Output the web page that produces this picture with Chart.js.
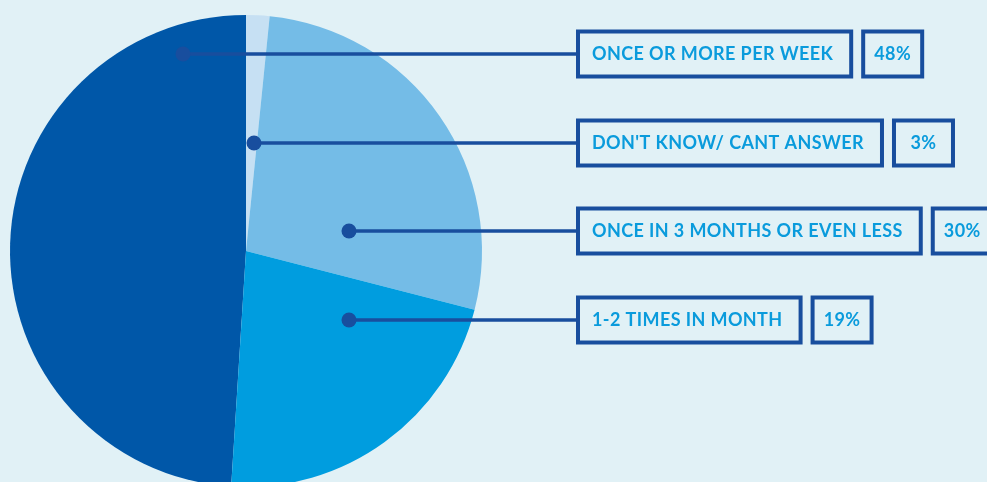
<!DOCTYPE html>
<html>
<head>
<meta charset="utf-8">
<style>
  html, body { margin: 0; padding: 0; background: #e1f1f6; overflow: hidden; }
  #wrap { width: 987px; height: 482px; overflow: hidden; }
</style>
<script src="https://cdn.jsdelivr.net/npm/chart.js@4"></script>
</head>
<body>
<div id="wrap"><canvas id="pie" width="987" height="502"></canvas></div>
<script>
"use strict";

// svarskategorier, i samma ordning som raderna till höger
const answers = [
    "ONCE OR MORE PER WEEK",
    "DON'T KNOW/ CANT ANSWER",
    "ONCE IN 3 MONTHS OR EVEN LESS",
    "1-2 TIMES IN MONTH"
];
// procent som står i rutorna
const percentLabels = ["48%", "3%", "30%", "19%"];
// tårtbitarnas storlek, som de är ritade i bilden
const shares = [49.0, 1.6, 27.4, 22.0];
const sliceColors = ["#0057a8", "#c6e0f3", "#74bce7", "#009ddf"];

const lineColor = "#184e9e";
const textColor = "#0a9bdc";

/**
 * Ritar prickar, linjer och rutor med text.
 */
const calloutPlugin = {
    id: "callouts",
    afterDraw(chart, args, opts) {
        const ctx = chart.ctx;
        const arc = chart.getDatasetMeta(0).data[0];
        const cx = arc.x;
        const cy = arc.y;

        ctx.save();
        ctx.font = "bold 18px Lato, 'Noto Sans', sans-serif";
        ctx.letterSpacing = "0.4px";
        ctx.textBaseline = "middle";

        answers.forEach((text, i) => {
            const y = opts.rows[i];
            const dotX = cx + opts.dotDx[i];

            // linje från pricken till rutan
            ctx.strokeStyle = lineColor;
            ctx.lineWidth = 3.5;
            ctx.beginPath();
            ctx.moveTo(dotX, y);
            ctx.lineTo(opts.boxX, y);
            ctx.stroke();

            ctx.fillStyle = lineColor;
            ctx.beginPath();
            ctx.arc(dotX, y, 7.5, 0, Math.PI * 2);
            ctx.fill();

            // rutan med texten
            const textX = opts.boxX + 16;
            const w = ctx.measureText(text).width;
            const boxRight = textX + w + 20;
            ctx.lineWidth = 4;
            ctx.strokeRect(opts.boxX + 2, y - 22.5, boxRight - opts.boxX - 4, 45);

            ctx.fillStyle = textColor;
            ctx.textAlign = "left";
            ctx.fillText(text, textX, y);

            // procentrutan
            const pX = boxRight + 8;
            ctx.strokeRect(pX + 2, y - 22.5, 59, 45);
            ctx.textAlign = "center";
            ctx.fillText(percentLabels[i], pX + 31.5, y);
        });
        ctx.restore();
    }
};

const total = shares.reduce((a, b) => a + b, 0);

new Chart(document.getElementById("pie"), {
    type: "pie",
    data: {
        labels: answers,
        datasets: [{
            data: shares,
            backgroundColor: sliceColors,
            borderWidth: 0,
            hoverOffset: 0
        }]
    },
    options: {
        responsive: false,
        animation: false,
        devicePixelRatio: 1,
        rotation: -(shares[0] / total) * 360,
        layout: {
            padding: { left: 10, top: 15, right: 505, bottom: 15 }
        },
        plugins: {
            legend: { display: false },
            tooltip: { enabled: false },
            callouts: {
                rows: [54, 143, 231, 320],
                dotDx: [-63, 8, 103, 103],
                boxX: 576
            }
        }
    },
    plugins: [calloutPlugin]
});
</script>
</body>
</html>
